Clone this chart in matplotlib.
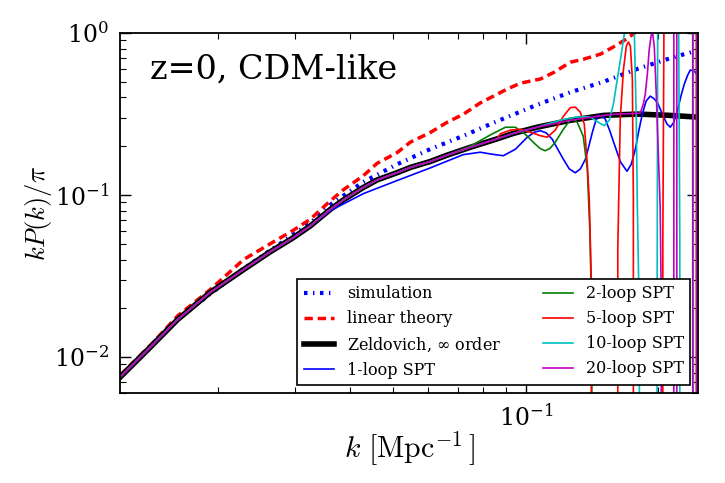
import numpy as np
import matplotlib
matplotlib.use('Agg')
import matplotlib.pyplot as plt
from matplotlib.ticker import NullFormatter, LogFormatterSciNotation

plt.rcParams['font.family'] = ['DejaVu Serif']
plt.rcParams['mathtext.fontset'] = 'dejavuserif'
plt.rcParams['lines.scale_dashes'] = False

# Zeldovich (all orders) -- the SPT curves share its low-k part
k_zel = [0.0120, 0.0141, 0.0162, 0.0192, 0.0229, 0.0263, 0.0295, 0.0324, 0.0360, 0.0386,
         0.0427, 0.0460, 0.0511, 0.0547, 0.0607, 0.0662, 0.0748, 0.0860, 0.0937, 0.106,
         0.126, 0.150, 0.179, 0.213, 0.248]
p_zel = [0.0075, 0.0116, 0.0170, 0.0250, 0.0347, 0.0446, 0.0540, 0.0643, 0.0815, 0.0935,
         0.111, 0.124, 0.1375, 0.148, 0.161, 0.176, 0.197, 0.222, 0.240, 0.262,
         0.289, 0.310, 0.316, 0.310, 0.302]

k_lin = [0.0120, 0.0141, 0.0162, 0.0192, 0.0229, 0.0263, 0.0295, 0.0324, 0.0360, 0.0386,
         0.0427, 0.0460, 0.0511, 0.0547, 0.0607, 0.0662, 0.0722, 0.0788, 0.0906, 0.0972,
         0.1079, 0.1156, 0.1262, 0.1354, 0.1476, 0.158, 0.1694, 0.1818]
p_lin = [0.0077, 0.0119, 0.0179, 0.026, 0.040, 0.050, 0.060, 0.0707, 0.092, 0.108,
         0.131, 0.157, 0.183, 0.212, 0.243, 0.2805, 0.3155, 0.37, 0.45, 0.49,
         0.52, 0.57, 0.66, 0.69, 0.74, 0.82, 0.92, 1.06]

k_sim = [0.0120, 0.0162, 0.0229, 0.0324, 0.0360, 0.0427, 0.0511, 0.0607, 0.0722, 0.086,
         0.106, 0.126, 0.150, 0.179, 0.213, 0.245]
p_sim = [0.0076, 0.0172, 0.0352, 0.067, 0.087, 0.120, 0.155, 0.192, 0.232, 0.285,
         0.36, 0.43, 0.50, 0.60, 0.70, 0.78]

# SPT: high-k parts only (negative = P(k) < 0, drawn to the bottom as in the log plot)
k_1loop = [0.0360, 0.0428, 0.0511, 0.0607, 0.0721, 0.0788, 0.0839, 0.0889, 0.0947, 0.1008,
           0.1045, 0.1079, 0.1112, 0.1148, 0.1180, 0.1217, 0.1255, 0.1295, 0.1330, 0.1365,
           0.1390, 0.1416, 0.1440, 0.1461, 0.1490, 0.1515, 0.1550, 0.1588, 0.1640, 0.1697,
           0.1735, 0.1772, 0.1805, 0.1838, 0.1875, 0.1916, 0.1950, 0.1987, 0.2051, 0.2090,
           0.2127, 0.2165, 0.2207, 0.2250, 0.2289, 0.2330, 0.2361, 0.2400, 0.2423, 0.2461]
p_1loop = [0.0800, 0.1020, 0.123, 0.1470, 0.1775, 0.1837, 0.1785, 0.1748, 0.1917, 0.2275,
           0.2440, 0.2495, 0.2420, 0.2211, 0.1930, 0.1662, 0.1450, 0.1372, 0.1450, 0.1662,
           0.2000, 0.2442, 0.2850, 0.3088, 0.3080, 0.2939, 0.2500, 0.2058, 0.1600, 0.1401,
           0.1550, 0.1917, 0.2500, 0.3155, 0.3800, 0.4077, 0.3950, 0.3745, 0.3066, 0.2750,
           0.2623, 0.2800, 0.3294, 0.4100, 0.4838, 0.5500, 0.5904, 0.5850, 0.5738, 0.5421]

k_2loop = [0.0748, 0.0831, 0.0899, 0.0947, 0.0997, 0.1051, 0.1080, 0.1107, 0.1135, 0.1166,
           0.1217, 0.1262, 0.1285, 0.1308, 0.1350, 0.1379, 0.1397, 0.1412, 0.1423, 0.2461]
p_2loop = [0.200, 0.235, 0.262, 0.262, 0.2373, 0.2058, 0.1930, 0.1876, 0.1940, 0.2117,
           0.2548, 0.2918, 0.2930, 0.2816, 0.2307, 0.1442, 0.0614, 0.0170, -0.05, -1]

k_5loop = [0.0876, 0.0922, 0.0972, 0.1024, 0.1079, 0.1119, 0.1166, 0.1217, 0.1262, 0.1295,
           0.1329, 0.1357, 0.1379, 0.1393, 0.1408, 0.1419, 0.1604, 0.1617, 0.1638, 0.1665,
           0.1691, 0.1709, 0.1727, 0.1745, 0.1754, 0.1772, 0.2034, 0.2046, 0.2062, 0.2437,
           0.2449, 0.2461]
p_5loop = [0.2390, 0.2513, 0.2548, 0.2442, 0.2324, 0.2275, 0.2513, 0.3066, 0.3462, 0.3487,
           0.3247, 0.2748, 0.1548, 0.0940, 0.0301, -1, -1, 0.0462, 0.2938, 0.5904,
           0.831, 0.880, 0.831, 0.519, 0.094, -1, -1, 0.05, 3.0, 3.0,
           -1, -1]

k_10loop = [0.1198, 0.1295, 0.1365, 0.1401, 0.1453, 0.1507, 0.1547, 0.1580, 0.1613, 0.1647,
            0.1673, 0.1699, 0.1727, 0.1749, 0.1763, 0.1781, 0.1791, 0.1810, 0.1828, 0.1977,
            0.1985, 0.1993, 0.2218, 0.2236, 0.2253, 0.2386, 0.2399, 0.2461]
p_10loop = [0.2897, 0.3022, 0.3044, 0.3022, 0.2836, 0.2679, 0.2897, 0.3639, 0.519, 0.7415,
            0.986, 1.743, 3.0, 3.0, 1.0, 0.2938, 0.0839, 0.0170, -1, -1,
            0.01, 3.0, 3.0, 0.05, -1, -1, 3.0, 3.0]

k_20loop = [0.1596, 0.1727, 0.1818, 0.1848, 0.1867, 0.1887, 0.1906, 0.1926, 0.1941, 0.1957,
            0.1977, 0.2001, 0.2018, 0.2029, 0.2040, 0.2156, 0.2167, 0.2201, 0.2212, 0.2379,
            0.2392, 0.2443, 0.2455, 0.2461]
p_20loop = [0.3155, 0.3178, 0.3201, 0.3639, 0.4213, 0.5578, 0.796, 0.972, 0.986, 0.819,
            0.4213, 0.1639, 0.0839, 0.0226, -1, -1, 3.0, 3.0, -1, -1,
            3.0, 3.0, -1, -1]


def with_low_k(k_tail, p_tail):
    kz = np.array(k_zel)
    pz = np.array(p_zel)
    m = kz < k_tail[0]
    return np.r_[kz[m], k_tail], np.r_[pz[m], p_tail]


fig = plt.figure(figsize=(7.25, 4.83), dpi=100)
ax = fig.add_axes([0.1655, 0.1863, 0.7975, 0.7454])

ax.plot(k_sim, p_sim, color='b', lw=3, ls=(0, (2.5, 4, 1, 4)), label='simulation')
ax.plot(k_lin, p_lin, color='r', lw=2.5, ls=(0, (6, 3.5)), label='linear theory')
ax.plot(k_zel, p_zel, color='k', lw=4, label=r'Zeldovich, $\infty$ order')

spt = [(k_1loop, p_1loop, 'b', '1-loop SPT'),
       (k_2loop, p_2loop, 'g', '2-loop SPT'),
       (k_5loop, p_5loop, 'r', '5-loop SPT'),
       (k_10loop, p_10loop, 'c', '10-loop SPT'),
       (k_20loop, p_20loop, 'm', '20-loop SPT')]
for kk, pp, c, lab in spt:
    kx, px = with_low_k(kk, pp)
    ax.plot(kx, px, color=c, lw=1.2, label=lab)

ax.set_xscale('log', nonpositive='clip')
ax.set_yscale('log', nonpositive='clip')
ax.set_xlim(0.0120, 0.2461)
ax.set_ylim(0.006, 1.0)

ax.xaxis.set_minor_formatter(NullFormatter())
ax.yaxis.set_minor_formatter(NullFormatter())
ax.xaxis.set_major_formatter(LogFormatterSciNotation())
ax.yaxis.set_major_formatter(LogFormatterSciNotation())
ax.tick_params(which='both', direction='in', top=True, right=True, labelsize=17)
ax.tick_params(which='major', length=8, width=1, pad=8)
ax.tick_params(which='minor', length=4, width=0.8)
for s in ax.spines.values():
    s.set_linewidth(1.3)

ax.set_xlabel(r'$k\ [\mathrm{Mpc}^{-1}\,]$', fontsize=21.5, math_fontfamily='cm',
              labelpad=-1)
ax.set_ylabel(r'$kP(k)/\pi$', fontsize=19, math_fontfamily='cm', labelpad=0)

ax.text(0.052, 0.897, 'z=0, CDM-like', transform=ax.transAxes, fontsize=24,
        va='center', ha='left')

leg = ax.legend(loc='lower right', ncol=2, fontsize=11.5, fancybox=False,
                framealpha=1, edgecolor='k', columnspacing=2.6, borderaxespad=0.5,
                labelspacing=0.5, handlelength=1.9)
leg.get_frame().set_linewidth(1.2)

fig.savefig('out.png', dpi=100)
